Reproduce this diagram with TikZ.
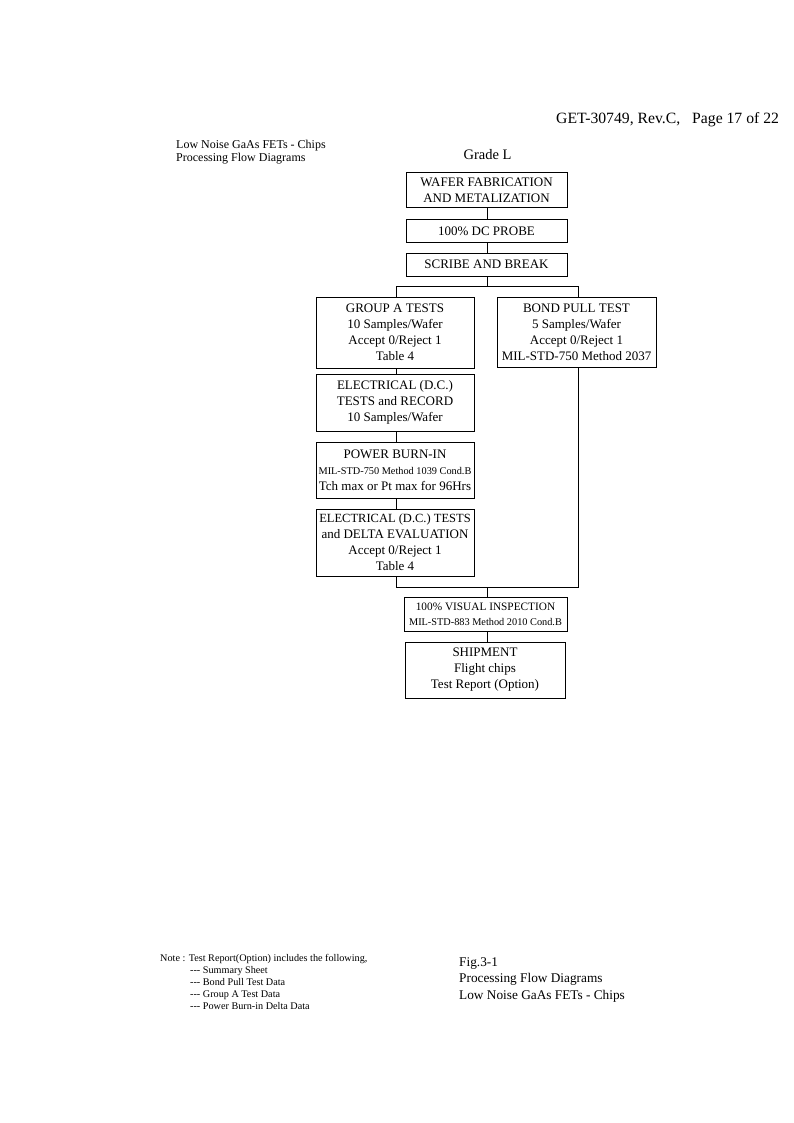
\documentclass[tikz,border=0pt]{standalone}
\usepackage{fontspec}
\setmainfont{Liberation Serif}
\tikzset{
  flowbox/.style={draw, line width=1pt, rectangle, align=center, inner sep=0pt,
    font=\fontsize{13}{16}\selectfont},
  conn/.style={line width=1pt},
  hdr/.style={inner sep=0pt, font=\fontsize{15.7}{18}\selectfont},
  smalltxt/.style={inner sep=0pt, font=\fontsize{10.2}{12}\selectfont},
  toptxt/.style={inner sep=0pt, font=\fontsize{12}{13}\selectfont},
  figtxt/.style={inner sep=0pt, font=\fontsize{13.3}{16}\selectfont},
}
\newcommand{\milsmall}[1]{{\fontsize{10.3}{12}\selectfont #1}}
\newcommand{\tripledash}{-{}-{}-}
\begin{document}
\begin{tikzpicture}[x=1pt,y=-1pt]
\useasboundingbox (0,0) rectangle (793,1123);
\fill[white] (0,0) rectangle (793,1123);

% header texts
\node[hdr, anchor=base west] (hdr) at (556,124) {GET-30749, Rev.C,\hspace{12pt}Page 17 of 22};
\node[toptxt, anchor=base west] (tl1) at (176,149) {Low Noise GaAs FETs - Chips};
\node[toptxt, anchor=base west] (tl2) at (176,162) {Processing Flow Diagrams};
\node[inner sep=0pt, font=\fontsize{14.5}{17}\selectfont, anchor=base] (grade) at (487.5,160) {Grade L};

% boxes
\node[flowbox, minimum width=161, minimum height=35] (wafer) at (486.5,190.5) {WAFER FABRICATION\\AND METALIZATION};
\node[flowbox, minimum width=161, minimum height=22] (probe) at (486.5,231) {100\% DC PROBE};
\node[flowbox, minimum width=161, minimum height=23] (scribe) at (486.5,264.5) {SCRIBE AND BREAK};
\node[flowbox, minimum width=158, minimum height=71] (groupa) at (395,332.5) {GROUP A TESTS\\10 Samples/Wafer\\Accept 0/Reject 1\\Table 4};
\node[flowbox, minimum width=159, minimum height=70] (bond) at (576.5,332) {BOND PULL TEST\\5 Samples/Wafer\\Accept 0/Reject 1\\MIL-STD-750 Method 2037};
\node[flowbox, minimum width=158, minimum height=57] (elec1) at (395,402.5) {ELECTRICAL (D.C.)\\TESTS and RECORD\\10 Samples/Wafer};
\node[flowbox, minimum width=158, minimum height=56] (burn) at (395,470) {POWER BURN-IN\\\milsmall{MIL-STD-750 Method 1039 Cond.B}\\Tch max or Pt max for 96Hrs};
\node[flowbox, minimum width=158, minimum height=67] (elec2) at (395,542.5) {{\fontsize{12.5}{16}\selectfont ELECTRICAL (D.C.) TESTS}\\and DELTA EVALUATION\\Accept 0/Reject 1\\Table 4};
\node[flowbox, minimum width=163, minimum height=34, font=\fontsize{11.3}{15}\selectfont] (visual) at (485.5,614) {100\% VISUAL INSPECTION\\\milsmall{MIL-STD-883 Method 2010 Cond.B}};
\node[flowbox, minimum width=160, minimum height=56] (ship) at (485,670) {SHIPMENT\\Flight chips\\Test Report (Option)};

% connectors
\coordinate (L) at (396,286);
\coordinate (R) at (578,286);
\coordinate (S) at (487,286);
\coordinate (M) at (487,587);
\draw[conn] (wafer.south -| S) -- (probe.north -| S);
\draw[conn] (probe.south -| S) -- (scribe.north -| S);
\draw[conn] (scribe.south -| S) -- (S);
\draw[conn] (L |- groupa.north) -- (L) -- (R) -- (R |- bond.north);
\draw[conn] (L |- groupa.south) -- (L |- elec1.north);
\draw[conn] (L |- elec1.south) -- (L |- burn.north);
\draw[conn] (L |- burn.south) -- (L |- elec2.north);
\draw[conn] (L |- elec2.south) -- (L |- M) -- (R |- M) -- (R |- bond.south);
\draw[conn] (M) -- (M |- visual.north);
\draw[conn] (M |- visual.south) -- (M |- ship.north);

% note
\node[smalltxt, anchor=base west] (note) at (160,961) {Note : Test Report(Option) includes the following,};
\node[smalltxt, anchor=base west] (n1) at (190,973) {\tripledash{} Summary Sheet};
\node[smalltxt, anchor=base west] (n2) at (190,985) {\tripledash{} Bond Pull Test Data};
\node[smalltxt, anchor=base west] (n3) at (190,997) {\tripledash{} Group A Test Data};
\node[smalltxt, anchor=base west] (n4) at (190,1009) {\tripledash{} Power Burn-in Delta Data};

% figure caption
\node[figtxt, anchor=base west] (f1) at (459,966) {Fig.3-1};
\node[figtxt, anchor=base west] (f2) at (459,982) {Processing Flow Diagrams};
\node[figtxt, anchor=base west] (f3) at (459,999) {Low Noise GaAs FETs - Chips};
\end{tikzpicture}
\end{document}
